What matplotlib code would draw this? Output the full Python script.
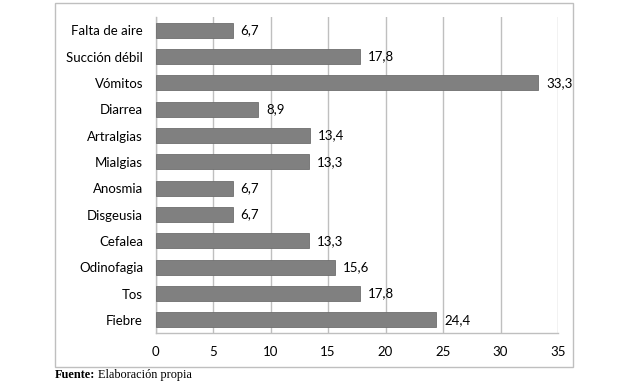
import matplotlib
matplotlib.use("Agg")
import matplotlib.pyplot as plt
from matplotlib.patches import Rectangle

# DATOS
sintomas = ["Falta de aire", "Succión débil", "Vómitos", "Diarrea", "Artralgias",
            "Mialgias", "Anosmia", "Disgeusia", "Cefalea", "Odinofagia", "Tos", "Fiebre"]
porcentajes = [6.7, 17.8, 33.3, 8.9, 13.4, 13.3, 6.7, 6.7, 13.3, 15.6, 17.8, 24.4]
x_ticks = [0, 5, 10, 15, 20, 25, 30, 35]

plt.rcParams['font.family'] = ['Lato', 'DejaVu Sans']

fig = plt.figure(figsize=(6.2, 3.86), dpi=100)
ax = fig.add_axes([0.251, 0.137, 0.649, 0.819])

# marco exterior del grafico
fig.patches.append(Rectangle((0.0887, 0.049), 0.835, 0.943, transform=fig.transFigure,
                             fill=False, edgecolor='#bfbfbf', linewidth=1))

pos = list(range(len(sintomas)))[::-1]
ax.barh(pos, porcentajes, height=0.57, color='#808080', edgecolor='#6e6e6e', linewidth=0.6, zorder=3)

for p, v in zip(pos, porcentajes):
    ax.text(v + 0.7, p, f"{v:.1f}".replace('.', ','), va='center', ha='left', fontsize=9.5, color='#000000')

ax.set_xlim(0, 35)
ax.set_ylim(-0.5, len(sintomas) - 0.5)
ax.set_xticks(x_ticks)
ax.set_yticks(pos)
ax.set_yticklabels(sintomas)
ax.tick_params(axis='both', length=0, labelsize=9.5, colors='#000000')
ax.tick_params(axis='x', pad=9)
ax.tick_params(axis='y', pad=9)
ax.grid(axis='x', color='#bfbfbf', linewidth=1, zorder=0)
for s in ['top', 'right']:
    ax.spines[s].set_visible(False)
for s in ['left', 'bottom']:
    ax.spines[s].set_color('#bfbfbf')
    ax.spines[s].set_linewidth(1)

# fuente
t1 = fig.text(0.0887, 0.028, "Fuente:", fontsize=8.8, fontweight='bold',
              family='Liberation Serif', va='center', ha='left')
fig.canvas.draw()
bb = t1.get_window_extent().transformed(fig.transFigure.inverted())
fig.text(bb.x1 + 0.004, 0.028, "Elaboración propia", fontsize=8.8,
         family='Liberation Serif', va='center', ha='left')

fig.savefig("out.png", dpi=100)
